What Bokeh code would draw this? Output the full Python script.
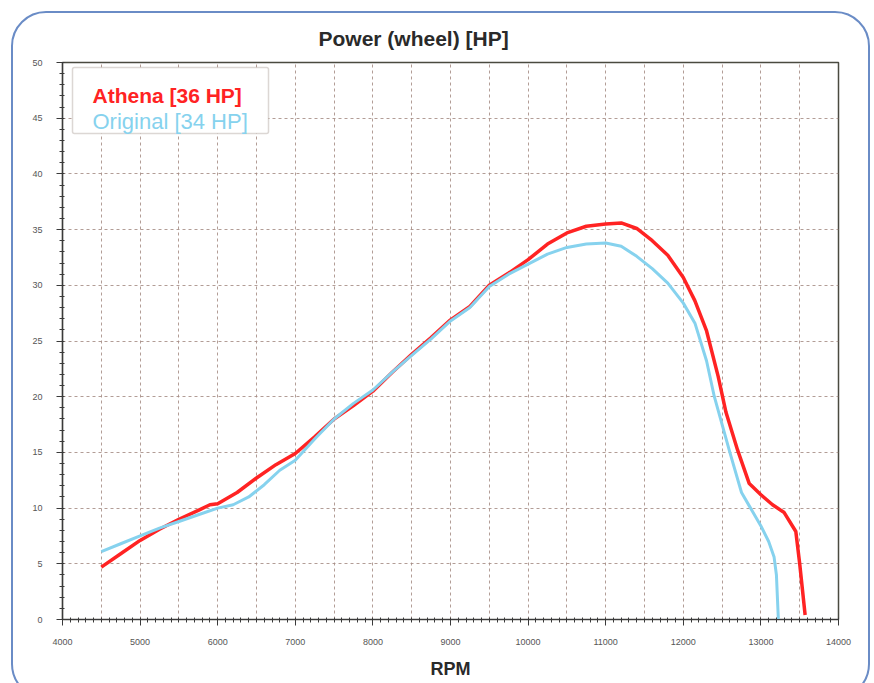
from bokeh.plotting import figure
from bokeh.models import SingleIntervalTicker, BoxAnnotation, Label, Range1d
from bokeh.embed import file_html
from bokeh.resources import INLINE

# ---- data ----
rpm_athena = [4500, 4750, 5000, 5250, 5500, 5750, 5900, 6000, 6250, 6500, 6750, 7000,
              7250, 7500, 7750, 8000, 8250, 8500, 8750, 9000, 9250, 9500, 9750, 10000,
              10250, 10500, 10750, 11000, 11200, 11400, 11600, 11800, 12000, 12150,
              12300, 12450, 12550, 12700, 12850, 13000, 13150, 13300, 13450, 13500, 13570]
hp_athena = [4.7, 5.9, 7.1, 8.1, 9.0, 9.8, 10.3, 10.4, 11.4, 12.7, 13.9, 14.9,
             16.4, 18.0, 19.2, 20.5, 22.2, 23.8, 25.3, 26.9, 28.1, 30.0, 31.1, 32.3,
             33.7, 34.7, 35.3, 35.5, 35.6, 35.1, 34.0, 32.7, 30.7, 28.6,
             25.9, 21.8, 18.6, 15.2, 12.2, 11.2, 10.3, 9.6, 7.9, 5.0, 0.4]

rpm_original = [4500, 4750, 5000, 5250, 5500, 5750, 6000, 6200, 6400, 6600, 6800, 7000,
                7250, 7500, 7750, 8000, 8250, 8500, 8750, 9000, 9250, 9500, 9750, 10000,
                10250, 10500, 10750, 11000, 11200, 11400, 11600, 11800, 12000, 12150,
                12300, 12400, 12600, 12750, 12850, 13000, 13100, 13170, 13200, 13225]
hp_original = [6.1, 6.8, 7.5, 8.2, 8.8, 9.4, 10.0, 10.3, 11.0, 12.1, 13.4, 14.3,
               16.2, 18.0, 19.4, 20.6, 22.2, 23.7, 25.2, 26.8, 28.0, 29.9, 31.0, 31.9,
               32.8, 33.4, 33.7, 33.8, 33.5, 32.6, 31.5, 30.2, 28.4, 26.6,
               23.2, 20.0, 15.0, 11.4, 10.2, 8.4, 7.0, 5.6, 4.0, 0.0]

series_labels = ["Athena [36 HP]", "Original [34 HP]"]
title_text = "Power (wheel) [HP]"
x_title = "RPM"

RED = "#ff2323"
BLUE = "#86d2ee"
FONT = "Liberation Sans"

p = figure(width=874, height=683,
           x_range=Range1d(4000, 14000), y_range=Range1d(0, 50),
           output_backend="svg", toolbar_location=None,
           min_border_left=62, min_border_right=36,
           min_border_top=62, min_border_bottom=64,
           background_fill_color="white", border_fill_color="white",
           border_fill_alpha=0.0)

# decorative rounded page frame, drawn as the element's CSS background
frame_svg = ("<svg xmlns='http://www.w3.org/2000/svg' width='874' height='683'>"
             "<rect x='12' y='12' width='857' height='686' rx='34' ry='34' "
             "fill='white' stroke='%236a8cc6' stroke-width='2'/></svg>")
p.styles = {"background-image": 'url("data:image/svg+xml;utf8,' + frame_svg + '")',
            "background-repeat": "no-repeat",
            "background-color": "white"}

# title
p.title.text = title_text
p.title.text_font = FONT
p.title.text_font_size = "21px"
p.title.text_font_style = "bold"
p.title.text_color = "#2a2a2a"
p.title.align = "left"
p.title.offset = 256
p.title.standoff = 25

# frame
p.outline_line_color = "#4a4a40"
p.outline_line_width = 1.5

# axes
for ax in (p.xaxis[0], p.yaxis[0]):
    ax.axis_line_color = "#3a3a3a"
    ax.axis_line_width = 1.2
    ax.major_tick_line_color = "#3a3a3a"
    ax.minor_tick_line_color = "#3a3a3a"
    ax.major_tick_out = 6
    ax.major_tick_in = 0
    ax.minor_tick_out = 3
    ax.minor_tick_in = 2
    ax.major_label_text_font = FONT
    ax.major_label_text_font_size = "9px"
    ax.major_label_text_color = "#555555"

p.xaxis.ticker = SingleIntervalTicker(interval=1000, num_minor_ticks=10)
p.yaxis.ticker = SingleIntervalTicker(interval=5, num_minor_ticks=5)
p.xaxis.major_label_standoff = 13
p.yaxis.major_label_standoff = 14

p.xaxis.axis_label = x_title
p.xaxis.axis_label_text_font = FONT
p.xaxis.axis_label_text_font_size = "18px"
p.xaxis.axis_label_text_font_style = "bold"
p.xaxis.axis_label_text_color = "#2a2a2a"
p.xaxis.axis_label_standoff = 11

# grid
p.xgrid.ticker = SingleIntervalTicker(interval=500)
p.grid.grid_line_color = "#a48c84"
p.grid.grid_line_dash = "3 3"
p.grid.grid_line_width = 1
p.grid.grid_line_alpha = 0.85

# curves
p.line(rpm_athena, hp_athena, line_color=RED, line_width=3.5)
p.line(rpm_original, hp_original, line_color=BLUE, line_width=3)

# legend box (screen units are relative to the plot frame)
box = BoxAnnotation(left=10, right=206, top=552, bottom=486,
                    left_units="screen", right_units="screen",
                    top_units="screen", bottom_units="screen",
                    fill_color="white", fill_alpha=1.0,
                    line_color="#8c7c72", line_width=1.5, border_radius=2)
p.add_layout(box)

lab1 = Label(x=30, y=524, x_units="screen", y_units="screen",
             text=series_labels[0], text_color=RED, text_font=FONT,
             text_font_size="21px", text_font_style="bold",
             text_baseline="alphabetic", text_align="left")
lab2 = Label(x=30, y=498.5, x_units="screen", y_units="screen",
             text=series_labels[1], text_color=BLUE, text_font=FONT,
             text_font_size="22px", text_baseline="alphabetic", text_align="left")
p.add_layout(lab1)
p.add_layout(lab2)

open("out.html", "w").write(file_html(p, INLINE))
